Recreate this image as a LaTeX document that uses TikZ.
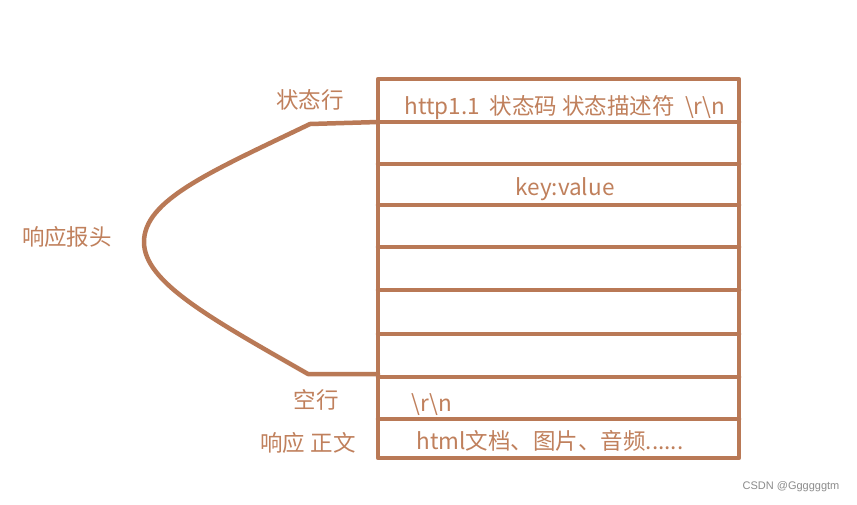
\documentclass[tikz,border=0pt]{standalone}
\usepackage{fontspec}
\setmainfont{Noto Sans CJK SC}
\newfontfamily\wmfont{Liberation Sans}
\definecolor{brn}{RGB}{185,121,86}
\definecolor{txt}{RGB}{192,128,92}
\begin{document}
\begin{tikzpicture}[x=1pt,y=-1pt,
  ln/.style={draw=brn,line width=4.5pt,line cap=round,line join=round},
  lbl/.style={text=txt,font=\fontsize{22.5}{24}\selectfont,inner sep=0pt}]
\useasboundingbox[fill=white] (0,0) rectangle (857,504);
% box
\draw[ln] (378,79) rectangle (739,458);
\foreach \y in {122,164,205,247,290,334,377,419}
  \draw[ln] (378,\y) -- (739,\y);
% brace
\coordinate (ta) at (378,122);
\coordinate (tb) at (310,124);
\coordinate (mid) at (144,242);
\coordinate (bb) at (308,374);
\coordinate (ba) at (378,374);
\draw[ln] (ta) -- (tb) .. controls (210,172) and (144,200) .. (mid)
  .. controls (144,282) and (210,318) .. (bb) -- (ba);
% labels
\node[lbl] (zt) at (310,100) {状态行};
\node[lbl] (xy) at (67,237) {响应报头};
\node[lbl] (kh) at (316,400) {空行};
\node[lbl] (zw) at (308,443) {响应 正文};
\node[lbl] (l1) at (565,108) {http1.1\ \ 状态码 状态描述符\ \ \textbackslash r\textbackslash n};
\node[lbl] (l2) at (565,189) {key:value};
\node[lbl] (l3) at (432,405) {\textbackslash r\textbackslash n};
\node[lbl] (l4) at (550,441) {html文档、图片、音频......};
\node[text=black!45,font=\wmfont\fontsize{11}{12}\selectfont,inner sep=0pt] (wm) at (791,487) {CSDN @Ggggggtm};
\end{tikzpicture}
\end{document}
